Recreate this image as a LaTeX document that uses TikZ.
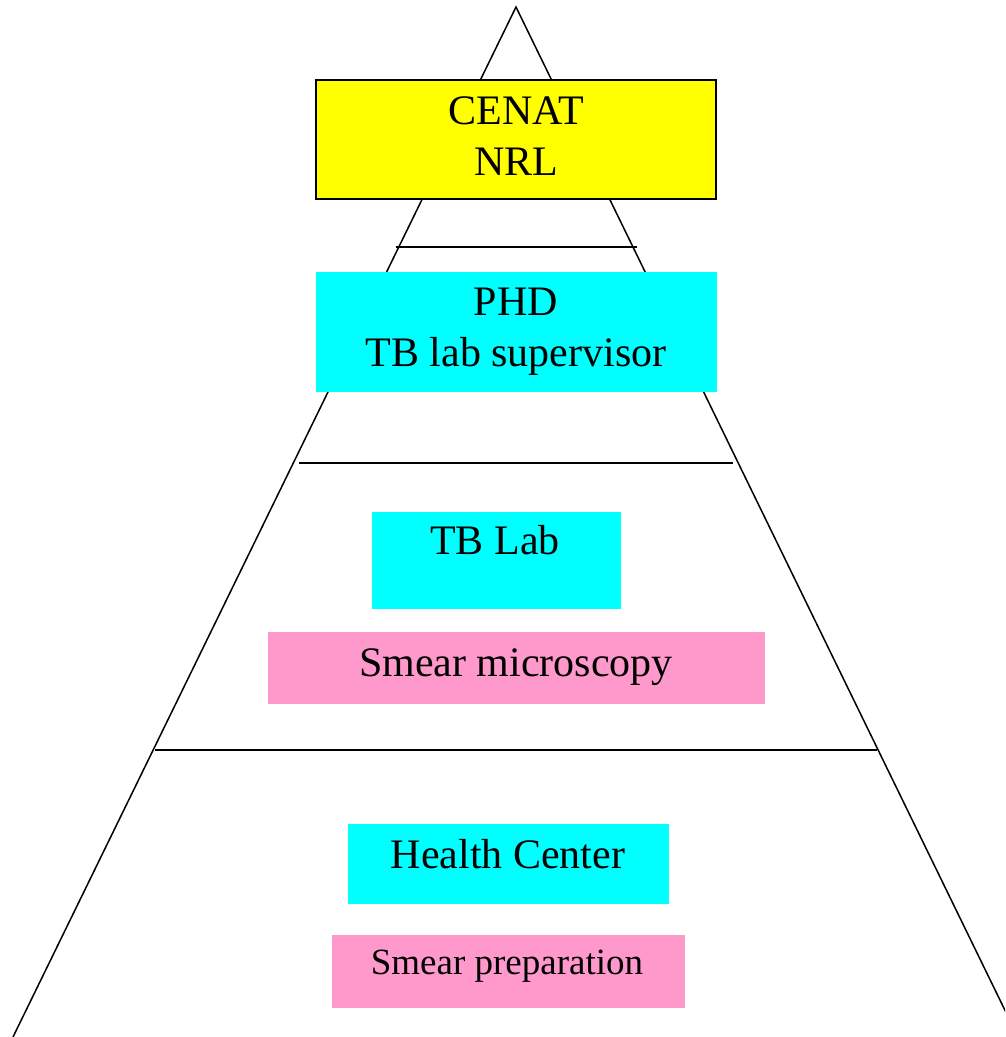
\documentclass[tikz,border=0pt]{standalone}
\usepackage{fontspec}
\setmainfont{Liberation Serif}
\definecolor{pinkbox}{RGB}{255,153,204}
\definecolor{yellowfill}{RGB}{255,255,0}
\definecolor{cyanfill}{RGB}{0,255,255}
\tikzset{
    edge/.style={line width=1.5pt},
    yellowbox/.style={fill=yellowfill, draw=black, line width=2pt},
    cyanbox/.style={fill=cyanfill},
    pinkfill/.style={fill=pinkbox},
    lbl/.style={anchor=base, inner sep=0pt, font=\fontsize{42}{51}\selectfont},
    smalllbl/.style={anchor=base, inner sep=0pt, font=\fontsize{37}{45}\selectfont}
}
\begin{document}
\begin{tikzpicture}[x=1pt, y=-1pt]
    \useasboundingbox (0,0) rectangle (1005,1037);
    \clip (0,0) rectangle (1005,1037);
    % pyramid
    \coordinate (top) at (516,7);
    \coordinate (bl) at (13,1037);
    \coordinate (br) at (1018,1037);
    \draw[edge] (bl) -- (top) -- (br);
    \draw[edge] (396,247) -- (637,247);
    \draw[edge] (299,463) -- (733,463);
    \draw[edge] (155,750) -- (877,750);
    % boxes
    \path[yellowbox] (316,80) rectangle (716,199);
    \path[cyanbox] (316,272) rectangle (717,392);
    \path[cyanbox] (372,512) rectangle (621,609);
    \path[pinkfill] (268,632) rectangle (765,704);
    \path[cyanbox] (348,824) rectangle (669,904);
    \path[pinkfill] (332,935) rectangle (685,1008);
    % labels
    \node[lbl] (cenat) at (516,124) {CENAT};
    \node[lbl] (nrl) at (516,175) {NRL};
    \node[lbl] (phd) at (516,315) {PHD};
    \node[lbl] (sup) at (516,366) {TB lab supervisor};
    \node[lbl] (tblab) at (495,554) {TB Lab};
    \node[lbl] (micro) at (516,676) {Smear microscopy};
    \node[lbl] (hc) at (508,868) {Health Center};
    \node[smalllbl] (prep) at (507,974) {Smear preparation};
\end{tikzpicture}
\end{document}
